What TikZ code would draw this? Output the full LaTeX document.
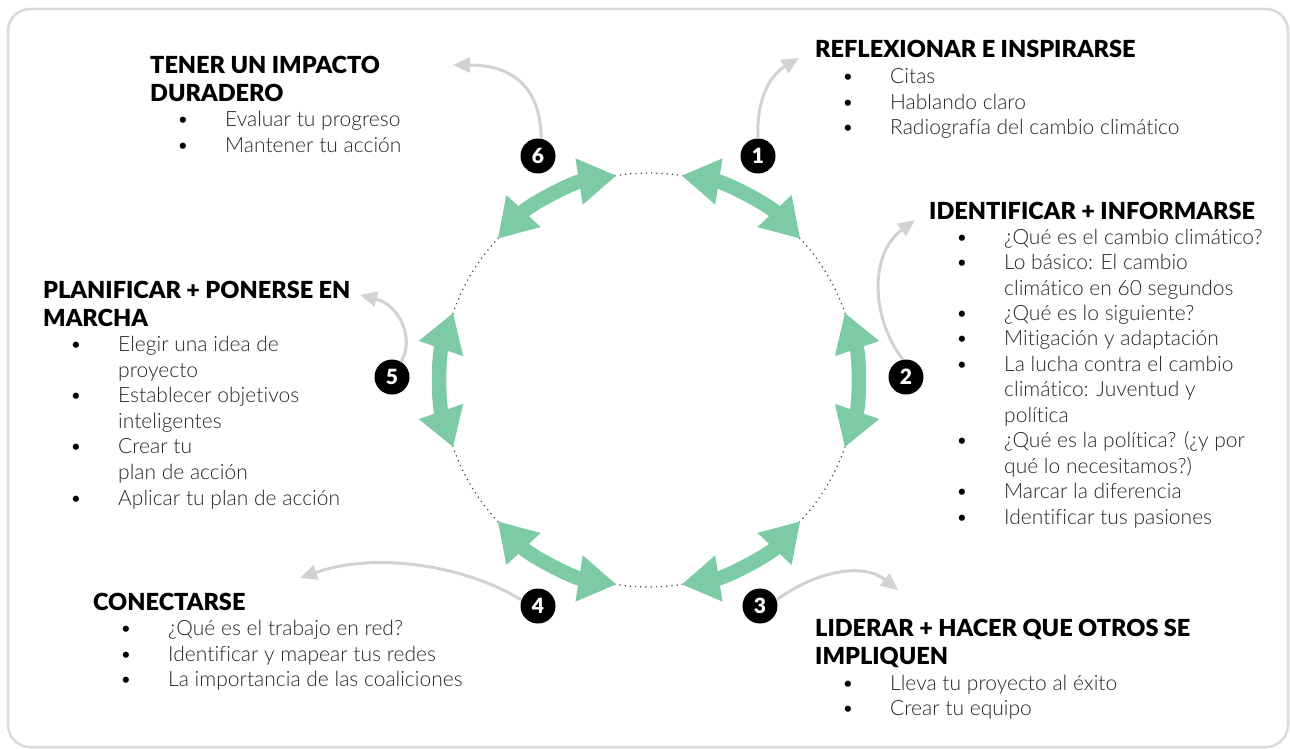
\documentclass[tikz,border=0pt]{standalone}
\usepackage{fontspec}
\newfontfamily\lightfont{Lato Light}[Ligatures=NoCommon]
\newfontfamily\blackfont{Lato Black}
\usetikzlibrary{arrows.meta,calc}
\definecolor{arrgreen}{RGB}{125,203,164}
\definecolor{lgrey}{RGB}{210,210,210}
\definecolor{bgrey}{RGB}{218,218,218}
\tikzset{
  heading/.style={anchor=base west, inner sep=0pt, font=\blackfont\fontsize{23.5}{23.5}\selectfont},
  itemtext/.style={anchor=base west, inner sep=0pt, text=black!85, font=\lightfont\fontsize{21}{21}\selectfont},
  bul/.style={anchor=base, inner sep=0pt, font=\lightfont\fontsize{21}{21}\selectfont},
  numcirc/.style={circle, fill=black, minimum size=35pt, inner sep=0pt, text=white, font=\blackfont\fontsize{21}{21}\selectfont},
  garrow/.style={draw=arrgreen, line width=14.5pt, {Triangle[length=38pt,width=44pt]}-{Triangle[length=38pt,width=44pt]}},
  greyarrow/.style={draw=lgrey, line width=3pt, -{Triangle[length=17pt,width=15pt]}},
  ring/.style={draw=black!75, line width=1.2pt, dash pattern=on 1.2pt off 4pt},
  frame/.style={draw=bgrey, line width=2.5pt, rounded corners=22pt},
}
\begin{document}
\begin{tikzpicture}[x=1pt,y=-1pt]
\useasboundingbox (0,0) rectangle (1290,749);
\draw[frame] (8,9) rectangle (1288,747);

% ring
\coordinate (C) at (649,380);
\draw[ring] (C) circle[radius=207];
\foreach \a [count=\i] in {0,62,118,180,242,298}{
  \coordinate (s\i) at ($(C)+(\a-19:207)$);
  \draw[garrow] (s\i) arc[start angle=\a-19, end angle=\a+19, radius=207];
}

% numbered circles
\node[numcirc] (n1) at (758,156) {1};
\node[numcirc] (n2) at (906,377) {2};
\node[numcirc] (n3) at (760,606) {3};
\node[numcirc] (n4) at (538,606) {4};
\node[numcirc] (n5) at (392,377) {5};
\node[numcirc] (n6) at (538,156) {6};

% grey arrows
\coordinate (t1) at (799,58);
\coordinate (t2) at (915,220);
\coordinate (t3) at (898,590);
\coordinate (t4) at (300,578);
\coordinate (t5) at (360,295);
\coordinate (t6) at (453,65);
\draw[greyarrow] (n1.north) .. controls (756,100) and (770,75) .. (t1);
\draw[greyarrow] (n2.100) .. controls (872,320) and (868,255) .. (t2);
\draw[greyarrow] (n3.20) .. controls (810,575) and (860,560) .. (t3);
\draw[greyarrow] (n4.160) .. controls (470,568) and (380,550) .. (t4);
\draw[greyarrow] (n5.60) .. controls (415,340) and (400,305) .. (t5);
\draw[greyarrow] (n6.80) .. controls (541,95) and (520,65) .. (t6);

% block 1
\node[heading] (h1) at (815,58) {REFLEXIONAR E INSPIRARSE};
\node[bul] (b1a) at (848,84) {•};
\node[itemtext] (i1a) at (890,84) {Citas};
\node[bul] (b1b) at (848,110) {•};
\node[itemtext] (i1b) at (890,110) {Hablando claro};
\node[bul] (b1c) at (848,135) {•};
\node[itemtext] (i1c) at (890,135) {Radiografía del cambio climático};

% block 2
\node[heading] (h2) at (929,219) {IDENTIFICAR + INFORMARSE};
\node[bul] (b2a) at (962,244) {•};
\node[itemtext] (i2a) at (1004,244) {¿Qué es el cambio climático?};
\node[bul] (b2b) at (962,269.5) {•};
\node[itemtext] (i2b) at (1004,269.5) {Lo básico: El cambio};
\node[itemtext] (i2b2) at (1004,295) {climático en 60 segundos};
\node[bul] (b2c) at (962,320.4) {•};
\node[itemtext] (i2c) at (1004,320.4) {¿Qué es lo siguiente?};
\node[bul] (b2d) at (962,345.8) {•};
\node[itemtext] (i2d) at (1004,345.8) {Mitigación y adaptación};
\node[bul] (b2e) at (962,371.3) {•};
\node[itemtext] (i2e) at (1004,371.3) {La lucha contra el cambio};
\node[itemtext] (i2e2) at (1004,396.7) {climático: Juventud y};
\node[itemtext] (i2e3) at (1004,422.2) {política};
\node[bul] (b2f) at (962,447.6) {•};
\node[itemtext] (i2f) at (1004,447.6) {¿Qué es la política? (¿y por};
\node[itemtext] (i2f2) at (1004,473) {qué lo necesitamos?)};
\node[bul] (b2g) at (962,498.5) {•};
\node[itemtext] (i2g) at (1004,498.5) {Marcar la diferencia};
\node[bul] (b2h) at (962,524) {•};
\node[itemtext] (i2h) at (1004,524) {Identificar tus pasiones};

% block 3
\node[heading] (h3) at (815,636) {LIDERAR + HACER QUE OTROS SE};
\node[heading] (h3b) at (815,664) {IMPLIQUEN};
\node[bul] (b3a) at (848,690) {•};
\node[itemtext] (i3a) at (890,690) {Lleva tu proyecto al éxito};
\node[bul] (b3b) at (848,715) {•};
\node[itemtext] (i3b) at (890,715) {Crear tu equipo};

% block 4
\node[heading] (h4) at (93,610) {CONECTARSE};
\node[bul] (b4a) at (126,635) {•};
\node[itemtext] (i4a) at (168,635) {¿Qué es el trabajo en red?};
\node[bul] (b4b) at (126,661) {•};
\node[itemtext] (i4b) at (168,661) {Identificar y mapear tus redes};
\node[bul] (b4c) at (126,686) {•};
\node[itemtext] (i4c) at (168,686) {La importancia de las coaliciones};

% block 5
\node[heading] (h5) at (43,298) {PLANIFICAR + PONERSE EN};
\node[heading] (h5b) at (43,326) {MARCHA};
\node[bul] (b5a) at (76,351) {•};
\node[itemtext] (i5a) at (118,351) {Elegir una idea de};
\node[itemtext] (i5a2) at (118,377) {proyecto};
\node[bul] (b5b) at (76,402) {•};
\node[itemtext] (i5b) at (118,402) {Establecer objetivos};
\node[itemtext] (i5b2) at (118,428) {inteligentes};
\node[bul] (b5c) at (76,453) {•};
\node[itemtext] (i5c) at (118,453) {Crear tu};
\node[itemtext] (i5c2) at (118,479) {plan de acción};
\node[bul] (b5d) at (76,505) {•};
\node[itemtext] (i5d) at (118,505) {Aplicar tu plan de acción};

% block 6
\node[heading] (h6) at (150,74) {TENER UN IMPACTO};
\node[heading] (h6b) at (150,102) {DURADERO};
\node[bul] (b6a) at (183,127) {•};
\node[itemtext] (i6a) at (225,127) {Evaluar tu progreso};
\node[bul] (b6b) at (183,153) {•};
\node[itemtext] (i6b) at (225,153) {Mantener tu acción};
\end{tikzpicture}
\end{document}
